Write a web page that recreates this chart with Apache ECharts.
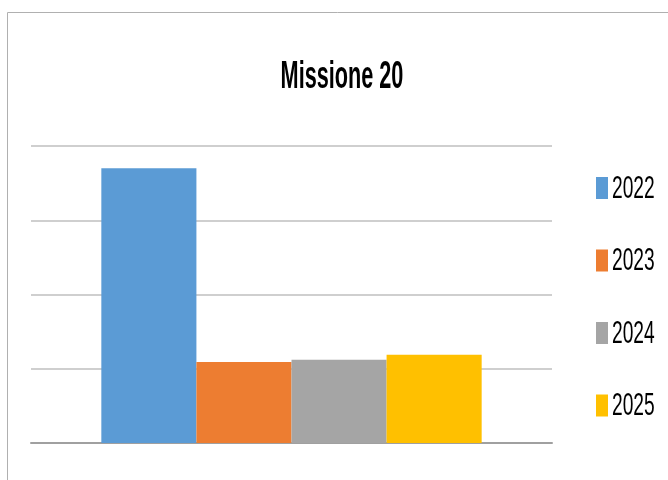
<!DOCTYPE html>
<html>
<head>
<meta charset="utf-8">
<script src="https://cdn.jsdelivr.net/npm/echarts@6/dist/echarts.min.js"></script>
<style>
    html, body { margin: 0; padding: 0; background: #fff; }
    #chart { width: 668px; height: 480px; }
</style>
</head>
<body>
<div id="chart"></div>
<script>
// data
const chartTitle = "Missione 20";
const categories = ["Missione 20"];
const years = ["2022", "2023", "2024", "2025"];
const values = [37, 10.9, 11.2, 11.9];
const colors = ["#5B9BD5", "#ED7D31", "#A5A5A5", "#FFC000"];

// no narrow font installed, so the text is squeezed with scaleX
const textFont = "'Liberation Sans', Arial, sans-serif";

const series = years.map((name, i) => ({
    name,
    type: "bar",
    barGap: 0,
    barCategoryGap: "27%",
    itemStyle: { color: colors[i] },
    data: [values[i]],
}));

const legendTop = 177;
const legendStep = 72.5;

const legendLabels = years.map((name, i) => ({
    type: "text",
    x: 612,
    y: legendTop + 12 + i * legendStep,
    scaleX: 0.6,
    style: {
        text: name,
        fill: "#000",
        font: "32px " + textFont,
        textAlign: "left",
        textVerticalAlign: "middle",
    },
}));

const chart = echarts.init(document.getElementById("chart"), null, { renderer: "canvas" });
chart.setOption({
    animation: false,
    legend: {
        orient: "vertical",
        left: 596,
        top: legendTop,
        padding: 0,
        itemWidth: 12,
        itemHeight: 22,
        itemGap: legendStep - 22,
        icon: "rect",
        formatter: () => "",
        textStyle: { fontSize: 10 },
        data: years,
    },
    grid: { left: 31, right: 116, top: 146, bottom: 37 },
    xAxis: {
        type: "category",
        data: categories,
        axisLabel: { show: false },
        axisTick: { show: false },
        axisLine: { lineStyle: { color: "#a0a0a0", width: 2 } },
    },
    yAxis: {
        type: "value",
        min: 0,
        max: 40,
        interval: 10,
        axisLabel: { show: false },
        axisLine: { show: false },
        splitLine: { lineStyle: { color: "#bfbfbf", width: 1.5 } },
    },
    graphic: [
        {
            type: "polyline",
            shape: { points: [[7.5, 480], [7.5, 12.5], [668, 12.5]] },
            style: { stroke: "#b0b0b0", lineWidth: 1, fill: null },
        },
        {
            type: "text",
            x: 342,
            y: 78,
            scaleX: 0.57,
            style: {
                text: chartTitle,
                fill: "#000",
                font: "bold 38px " + textFont,
                textAlign: "center",
                textVerticalAlign: "middle",
            },
        },
        ...legendLabels,
    ],
    series,
});
</script>
</body>
</html>
